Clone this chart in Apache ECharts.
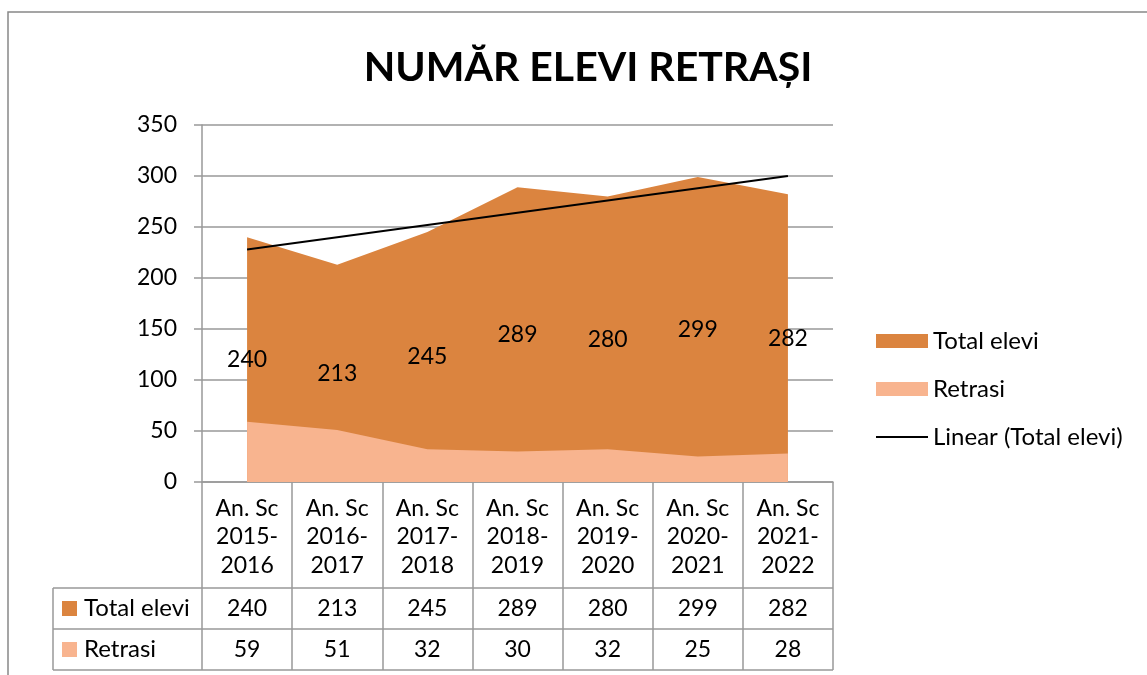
<!DOCTYPE html>
<html>
<head>
<meta charset="utf-8">
<script src="https://cdn.jsdelivr.net/npm/echarts@6/dist/echarts.min.js"></script>
<style>html,body{margin:0;padding:0;background:#fff}#c{width:1147px;height:675px}</style>
</head>
<body>
<div id="c"></div>
<script>
const categories = ['An. Sc\n2015-\n2016','An. Sc\n2016-\n2017','An. Sc\n2017-\n2018','An. Sc\n2018-\n2019','An. Sc\n2019-\n2020','An. Sc\n2020-\n2021','An. Sc\n2021-\n2022'];
const totalElevi = [240, 213, 245, 289, 280, 299, 282];
const retrasi = [59, 51, 32, 30, 32, 25, 28];
const trendEnds = [228, null, null, null, null, null, 300];
const rowNames = ['Total elevi', 'Retrasi'];
const yTicks = [0, 350, 50];

const C_TOTAL = '#DB843F', C_RETR = '#F8B48F', GRAY = '#999999', FONT = 'Lato';
const NUM = 23, TXT = 24;
const chart = echarts.init(document.getElementById('c'), null, {renderer: 'canvas'});
chart.setOption({
  backgroundColor: '#fff',
  animation: false,
  textStyle: {fontFamily: FONT, color: '#000'},
  title: {text: 'NUMĂR ELEVI RETRAȘI', left: 583, textAlign: 'center', top: 42,
    textStyle: {fontFamily: FONT, fontWeight: 'bold', fontSize: 41, color: '#000'}},
  legend: {orient: 'vertical', left: 876, top: 329, padding: 0, itemWidth: 52, itemHeight: 14, itemGap: 24,
    textStyle: {fontFamily: FONT, fontSize: TXT, color: '#000'},
    data: [{name: 'Total elevi', icon: 'rect'}, {name: 'Retrasi', icon: 'rect'},
           {name: 'Linear (Total elevi)', icon: 'path://M0,0M0,6L52,6L52,8L0,8ZM52,14'}]},
  grid: [
    {left: 202, top: 125, width: 631, height: 357},
    {left: 202, top: 588, width: 631, height: 82}
  ],
  xAxis: [
    {gridIndex: 0, type: 'category', data: categories, boundaryGap: true,
      axisLine: {lineStyle: {color: GRAY, width: 1.5}},
      axisTick: {show: true, length: 188, lineStyle: {color: GRAY, width: 1.5}},
      axisLabel: {fontSize: NUM, lineHeight: 28.5, color: '#000', margin: 12, interval: 0, fontFamily: FONT}},
    {gridIndex: 1, type: 'category', data: categories, boundaryGap: true,
      axisLine: {show: false}, axisTick: {show: false}, axisLabel: {show: false}}
  ],
  yAxis: [
    {gridIndex: 0, type: 'value', min: yTicks[0], max: yTicks[1], interval: yTicks[2],
      axisLine: {show: true, lineStyle: {color: GRAY, width: 1.5}},
      axisTick: {show: true, length: 8, lineStyle: {color: GRAY, width: 1.5}},
      splitLine: {lineStyle: {color: GRAY, width: 1.5}},
      axisLabel: {fontSize: NUM, color: '#000', margin: 25, fontFamily: FONT}},
    {gridIndex: 1, type: 'category', data: rowNames, inverse: true, boundaryGap: true,
      axisLine: {show: false},
      axisTick: {show: true, length: 149, lineStyle: {color: GRAY, width: 1.5}},
      splitLine: {show: true, lineStyle: {color: GRAY, width: 1.5}},
      axisLabel: {align: 'left', margin: 140, fontFamily: FONT,
        formatter: (v, i) => '{b' + i + '|}{t|' + v + '}',
        rich: {b0: {width: 15, height: 15, backgroundColor: C_TOTAL},
               b1: {width: 15, height: 15, backgroundColor: C_RETR},
               t: {fontSize: TXT, color: '#000', padding: [0, 0, 0, 7], fontFamily: FONT}}}}
  ],
  series: [
    {name: 'Total elevi', type: 'line', xAxisIndex: 0, yAxisIndex: 0, data: totalElevi,
      symbol: 'none', color: C_TOTAL, lineStyle: {width: 0}, areaStyle: {color: C_TOTAL, opacity: 1}, z: 1},
    {name: 'Retrasi', type: 'line', xAxisIndex: 0, yAxisIndex: 0, data: retrasi,
      symbol: 'none', color: C_RETR, lineStyle: {width: 0}, areaStyle: {color: C_RETR, opacity: 1}, z: 2},
    {name: 'Linear (Total elevi)', type: 'line', xAxisIndex: 0, yAxisIndex: 0, data: trendEnds, connectNulls: true,
      symbol: 'none', color: '#000', lineStyle: {width: 2, color: '#000'}, z: 3},
    {name: 'lbl', type: 'bar', xAxisIndex: 0, yAxisIndex: 0, data: totalElevi, barWidth: 40,
      itemStyle: {color: 'rgba(0,0,0,0)'}, silent: true, z: 4,
      label: {show: true, position: 'inside', fontSize: NUM, color: '#000', fontFamily: FONT}},
    {name: 'tbl1', type: 'scatter', xAxisIndex: 1, yAxisIndex: 1, symbolSize: 1, silent: true,
      itemStyle: {color: 'rgba(0,0,0,0)', opacity: 1},
      data: totalElevi.map((v, i) => [i, 0, v]),
      label: {show: true, position: 'inside', opacity: 1, formatter: p => p.value[2], fontSize: NUM, color: '#000', fontFamily: FONT}},
    {name: 'tbl2', type: 'scatter', xAxisIndex: 1, yAxisIndex: 1, symbolSize: 1, silent: true,
      itemStyle: {color: 'rgba(0,0,0,0)', opacity: 1},
      data: retrasi.map((v, i) => [i, 1, v]),
      label: {show: true, position: 'inside', opacity: 1, formatter: p => p.value[2], fontSize: NUM, color: '#000', fontFamily: FONT}}
  ],
  graphic: [
    {type: 'polyline', shape: {points: [[8, 675], [8, 12], [1147, 12]]}, style: {stroke: '#888', lineWidth: 1.5, fill: null}, silent: true},
    {type: 'line', shape: {x1: 53, y1: 588, x2: 53, y2: 670}, style: {stroke: GRAY, lineWidth: 1.5}, silent: true}
  ]
});
</script>
</body>
</html>
